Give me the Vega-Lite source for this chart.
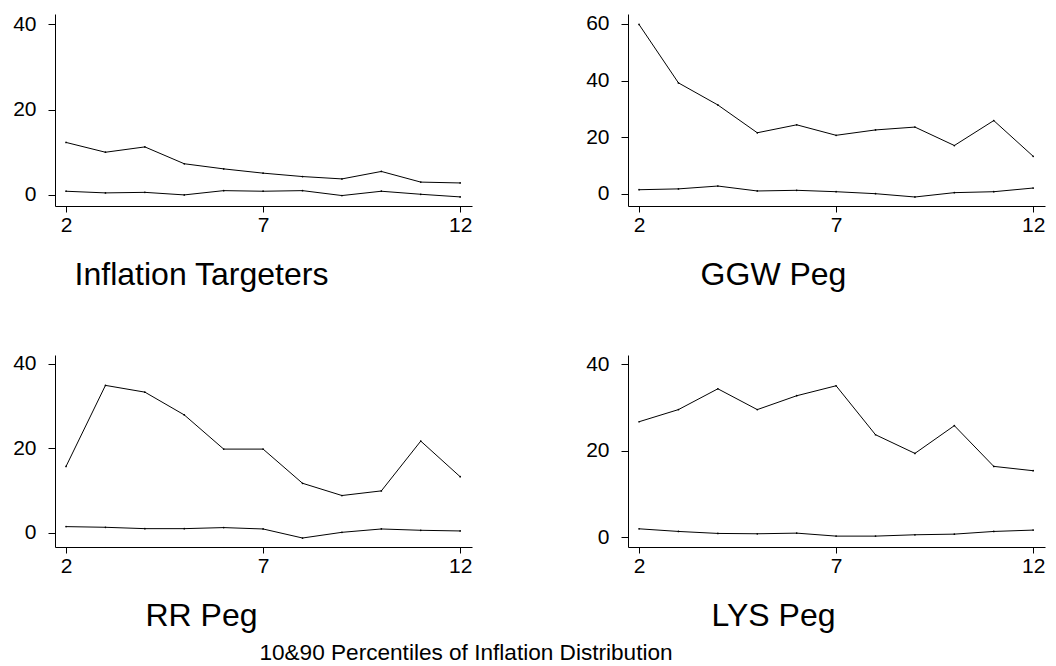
{
  "$schema": "https://vega.github.io/schema/vega-lite/v6.json",
  "padding": {"left": 12, "top": 12, "right": 5, "bottom": 5},
  "background": "white",
  "data": {"values": [
    {"g":"IT","h":2,"s":"p90","v":12.3},{"g":"IT","h":3,"s":"p90","v":10.0},{"g":"IT","h":4,"s":"p90","v":11.25},{"g":"IT","h":5,"s":"p90","v":7.3},{"g":"IT","h":6,"s":"p90","v":6.1},{"g":"IT","h":7,"s":"p90","v":5.1},{"g":"IT","h":8,"s":"p90","v":4.3},{"g":"IT","h":9,"s":"p90","v":3.75},{"g":"IT","h":10,"s":"p90","v":5.5},{"g":"IT","h":11,"s":"p90","v":3.0},{"g":"IT","h":12,"s":"p90","v":2.8},
    {"g":"IT","h":2,"s":"p10","v":0.86},{"g":"IT","h":3,"s":"p10","v":0.47},{"g":"IT","h":4,"s":"p10","v":0.6},{"g":"IT","h":5,"s":"p10","v":0.0},{"g":"IT","h":6,"s":"p10","v":1.0},{"g":"IT","h":7,"s":"p10","v":0.86},{"g":"IT","h":8,"s":"p10","v":1.0},{"g":"IT","h":9,"s":"p10","v":-0.15},{"g":"IT","h":10,"s":"p10","v":0.86},{"g":"IT","h":11,"s":"p10","v":0.15},{"g":"IT","h":12,"s":"p10","v":-0.47},
    {"g":"GGW","h":2,"s":"p90","v":59.8},{"g":"GGW","h":3,"s":"p90","v":39.2},{"g":"GGW","h":4,"s":"p90","v":31.4},{"g":"GGW","h":5,"s":"p90","v":21.6},{"g":"GGW","h":6,"s":"p90","v":24.4},{"g":"GGW","h":7,"s":"p90","v":20.7},{"g":"GGW","h":8,"s":"p90","v":22.6},{"g":"GGW","h":9,"s":"p90","v":23.6},{"g":"GGW","h":10,"s":"p90","v":17.1},{"g":"GGW","h":11,"s":"p90","v":25.9},{"g":"GGW","h":12,"s":"p90","v":13.3},
    {"g":"GGW","h":2,"s":"p10","v":1.5},{"g":"GGW","h":3,"s":"p10","v":1.8},{"g":"GGW","h":4,"s":"p10","v":2.8},{"g":"GGW","h":5,"s":"p10","v":1.06},{"g":"GGW","h":6,"s":"p10","v":1.3},{"g":"GGW","h":7,"s":"p10","v":0.8},{"g":"GGW","h":8,"s":"p10","v":0.1},{"g":"GGW","h":9,"s":"p10","v":-1.06},{"g":"GGW","h":10,"s":"p10","v":0.47},{"g":"GGW","h":11,"s":"p10","v":0.8},{"g":"GGW","h":12,"s":"p10","v":2.1},
    {"g":"RR","h":2,"s":"p90","v":15.7},{"g":"RR","h":3,"s":"p90","v":34.9},{"g":"RR","h":4,"s":"p90","v":33.3},{"g":"RR","h":5,"s":"p90","v":27.9},{"g":"RR","h":6,"s":"p90","v":19.8},{"g":"RR","h":7,"s":"p90","v":19.8},{"g":"RR","h":8,"s":"p90","v":11.7},{"g":"RR","h":9,"s":"p90","v":8.8},{"g":"RR","h":10,"s":"p90","v":9.9},{"g":"RR","h":11,"s":"p90","v":21.7},{"g":"RR","h":12,"s":"p90","v":13.25},
    {"g":"RR","h":2,"s":"p10","v":1.43},{"g":"RR","h":3,"s":"p10","v":1.27},{"g":"RR","h":4,"s":"p10","v":0.95},{"g":"RR","h":5,"s":"p10","v":0.95},{"g":"RR","h":6,"s":"p10","v":1.2},{"g":"RR","h":7,"s":"p10","v":0.87},{"g":"RR","h":8,"s":"p10","v":-1.27},{"g":"RR","h":9,"s":"p10","v":0.08},{"g":"RR","h":10,"s":"p10","v":0.87},{"g":"RR","h":11,"s":"p10","v":0.56},{"g":"RR","h":12,"s":"p10","v":0.4},
    {"g":"LYS","h":2,"s":"p90","v":26.7},{"g":"LYS","h":3,"s":"p90","v":29.5},{"g":"LYS","h":4,"s":"p90","v":34.3},{"g":"LYS","h":5,"s":"p90","v":29.5},{"g":"LYS","h":6,"s":"p90","v":32.7},{"g":"LYS","h":7,"s":"p90","v":35.0},{"g":"LYS","h":8,"s":"p90","v":23.7},{"g":"LYS","h":9,"s":"p90","v":19.4},{"g":"LYS","h":10,"s":"p90","v":25.8},{"g":"LYS","h":11,"s":"p90","v":16.4},{"g":"LYS","h":12,"s":"p90","v":15.4},
    {"g":"LYS","h":2,"s":"p10","v":2.0},{"g":"LYS","h":3,"s":"p10","v":1.39},{"g":"LYS","h":4,"s":"p10","v":0.93},{"g":"LYS","h":5,"s":"p10","v":0.85},{"g":"LYS","h":6,"s":"p10","v":1.0},{"g":"LYS","h":7,"s":"p10","v":0.31},{"g":"LYS","h":8,"s":"p10","v":0.31},{"g":"LYS","h":9,"s":"p10","v":0.62},{"g":"LYS","h":10,"s":"p10","v":0.77},{"g":"LYS","h":11,"s":"p10","v":1.39},{"g":"LYS","h":12,"s":"p10","v":1.7}
  ]},
  "columns": 2,
  "spacing": {"row": 149, "column": 156},
  "bounds": "flush",
  "title": {"text": "10&90 Percentiles of Inflation Distribution", "orient": "bottom", "anchor": "middle", "frame": "group", "fontSize": 22.6, "font": "Liberation Sans", "fontWeight": "normal", "color": "black", "dx": 411, "offset": 10},
  "concat": [
    {
      "width": 417, "height": 192,
      "transform": [{"filter": "datum.g === 'IT'"}],
      "title": {"text": "Inflation Targeters", "orient": "bottom", "anchor": "middle", "dx": -62, "offset": 25, "baseline": "top", "fontSize": 32, "font": "Liberation Sans", "fontWeight": "normal", "color": "black"},
      "mark": {"type": "line", "color": "black", "strokeWidth": 1, "point": {"filled": true, "size": 3, "color": "black"}},
      "encoding": {
        "x": {"field": "h", "type": "quantitative", "scale": {"domain": [1.72, 12.3], "nice": false, "zero": false}, "axis": {"values": [2, 7, 12]}},
        "y": {"field": "v", "type": "quantitative", "scale": {"domain": [-2.6, 42.4], "nice": false, "zero": false}, "axis": {"values": [0, 20, 40]}},
        "detail": {"field": "s"}
      }
    },
    {
      "width": 417, "height": 192,
      "transform": [{"filter": "datum.g === 'GGW'"}],
      "title": {"text": "GGW Peg", "orient": "bottom", "anchor": "middle", "dx": -63, "offset": 25, "baseline": "top", "fontSize": 32, "font": "Liberation Sans", "fontWeight": "normal", "color": "black"},
      "mark": {"type": "line", "color": "black", "strokeWidth": 1, "point": {"filled": true, "size": 3, "color": "black"}},
      "encoding": {
        "x": {"field": "h", "type": "quantitative", "scale": {"domain": [1.72, 12.3], "nice": false, "zero": false}, "axis": {"values": [2, 7, 12]}},
        "y": {"field": "v", "type": "quantitative", "scale": {"domain": [-4.24, 63.5], "nice": false, "zero": false}, "axis": {"values": [0, 20, 40, 60]}},
        "detail": {"field": "s"}
      }
    },
    {
      "width": 417, "height": 192,
      "transform": [{"filter": "datum.g === 'RR'"}],
      "title": {"text": "RR Peg", "orient": "bottom", "anchor": "middle", "dx": -62, "offset": 25, "baseline": "top", "fontSize": 32, "font": "Liberation Sans", "fontWeight": "normal", "color": "black"},
      "mark": {"type": "line", "color": "black", "strokeWidth": 1, "point": {"filled": true, "size": 3, "color": "black"}},
      "encoding": {
        "x": {"field": "h", "type": "quantitative", "scale": {"domain": [1.72, 12.3], "nice": false, "zero": false}, "axis": {"values": [2, 7, 12]}},
        "y": {"field": "v", "type": "quantitative", "scale": {"domain": [-3.4, 42.1], "nice": false, "zero": false}, "axis": {"values": [0, 20, 40]}},
        "detail": {"field": "s"}
      }
    },
    {
      "width": 417, "height": 192,
      "transform": [{"filter": "datum.g === 'LYS'"}],
      "title": {"text": "LYS Peg", "orient": "bottom", "anchor": "middle", "dx": -63, "offset": 25, "baseline": "top", "fontSize": 32, "font": "Liberation Sans", "fontWeight": "normal", "color": "black"},
      "mark": {"type": "line", "color": "black", "strokeWidth": 1, "point": {"filled": true, "size": 3, "color": "black"}},
      "encoding": {
        "x": {"field": "h", "type": "quantitative", "scale": {"domain": [1.72, 12.3], "nice": false, "zero": false}, "axis": {"values": [2, 7, 12]}},
        "y": {"field": "v", "type": "quantitative", "scale": {"domain": [-2.2, 42.1], "nice": false, "zero": false}, "axis": {"values": [0, 20, 40]}},
        "detail": {"field": "s"}
      }
    }
  ],
  "config": {
    "view": {"stroke": null},
    "axis": {"domainColor": "black", "tickColor": "black", "labelColor": "black", "labelFont": "Liberation Sans", "labelFontSize": 21, "grid": false, "title": null, "domainWidth": 1, "tickWidth": 1, "labelFlush": false, "labelOverlap": false},
    "axisY": {"tickSize": 7, "labelPadding": 12},
    "axisX": {"tickSize": 6, "labelPadding": 2}
  }
}
